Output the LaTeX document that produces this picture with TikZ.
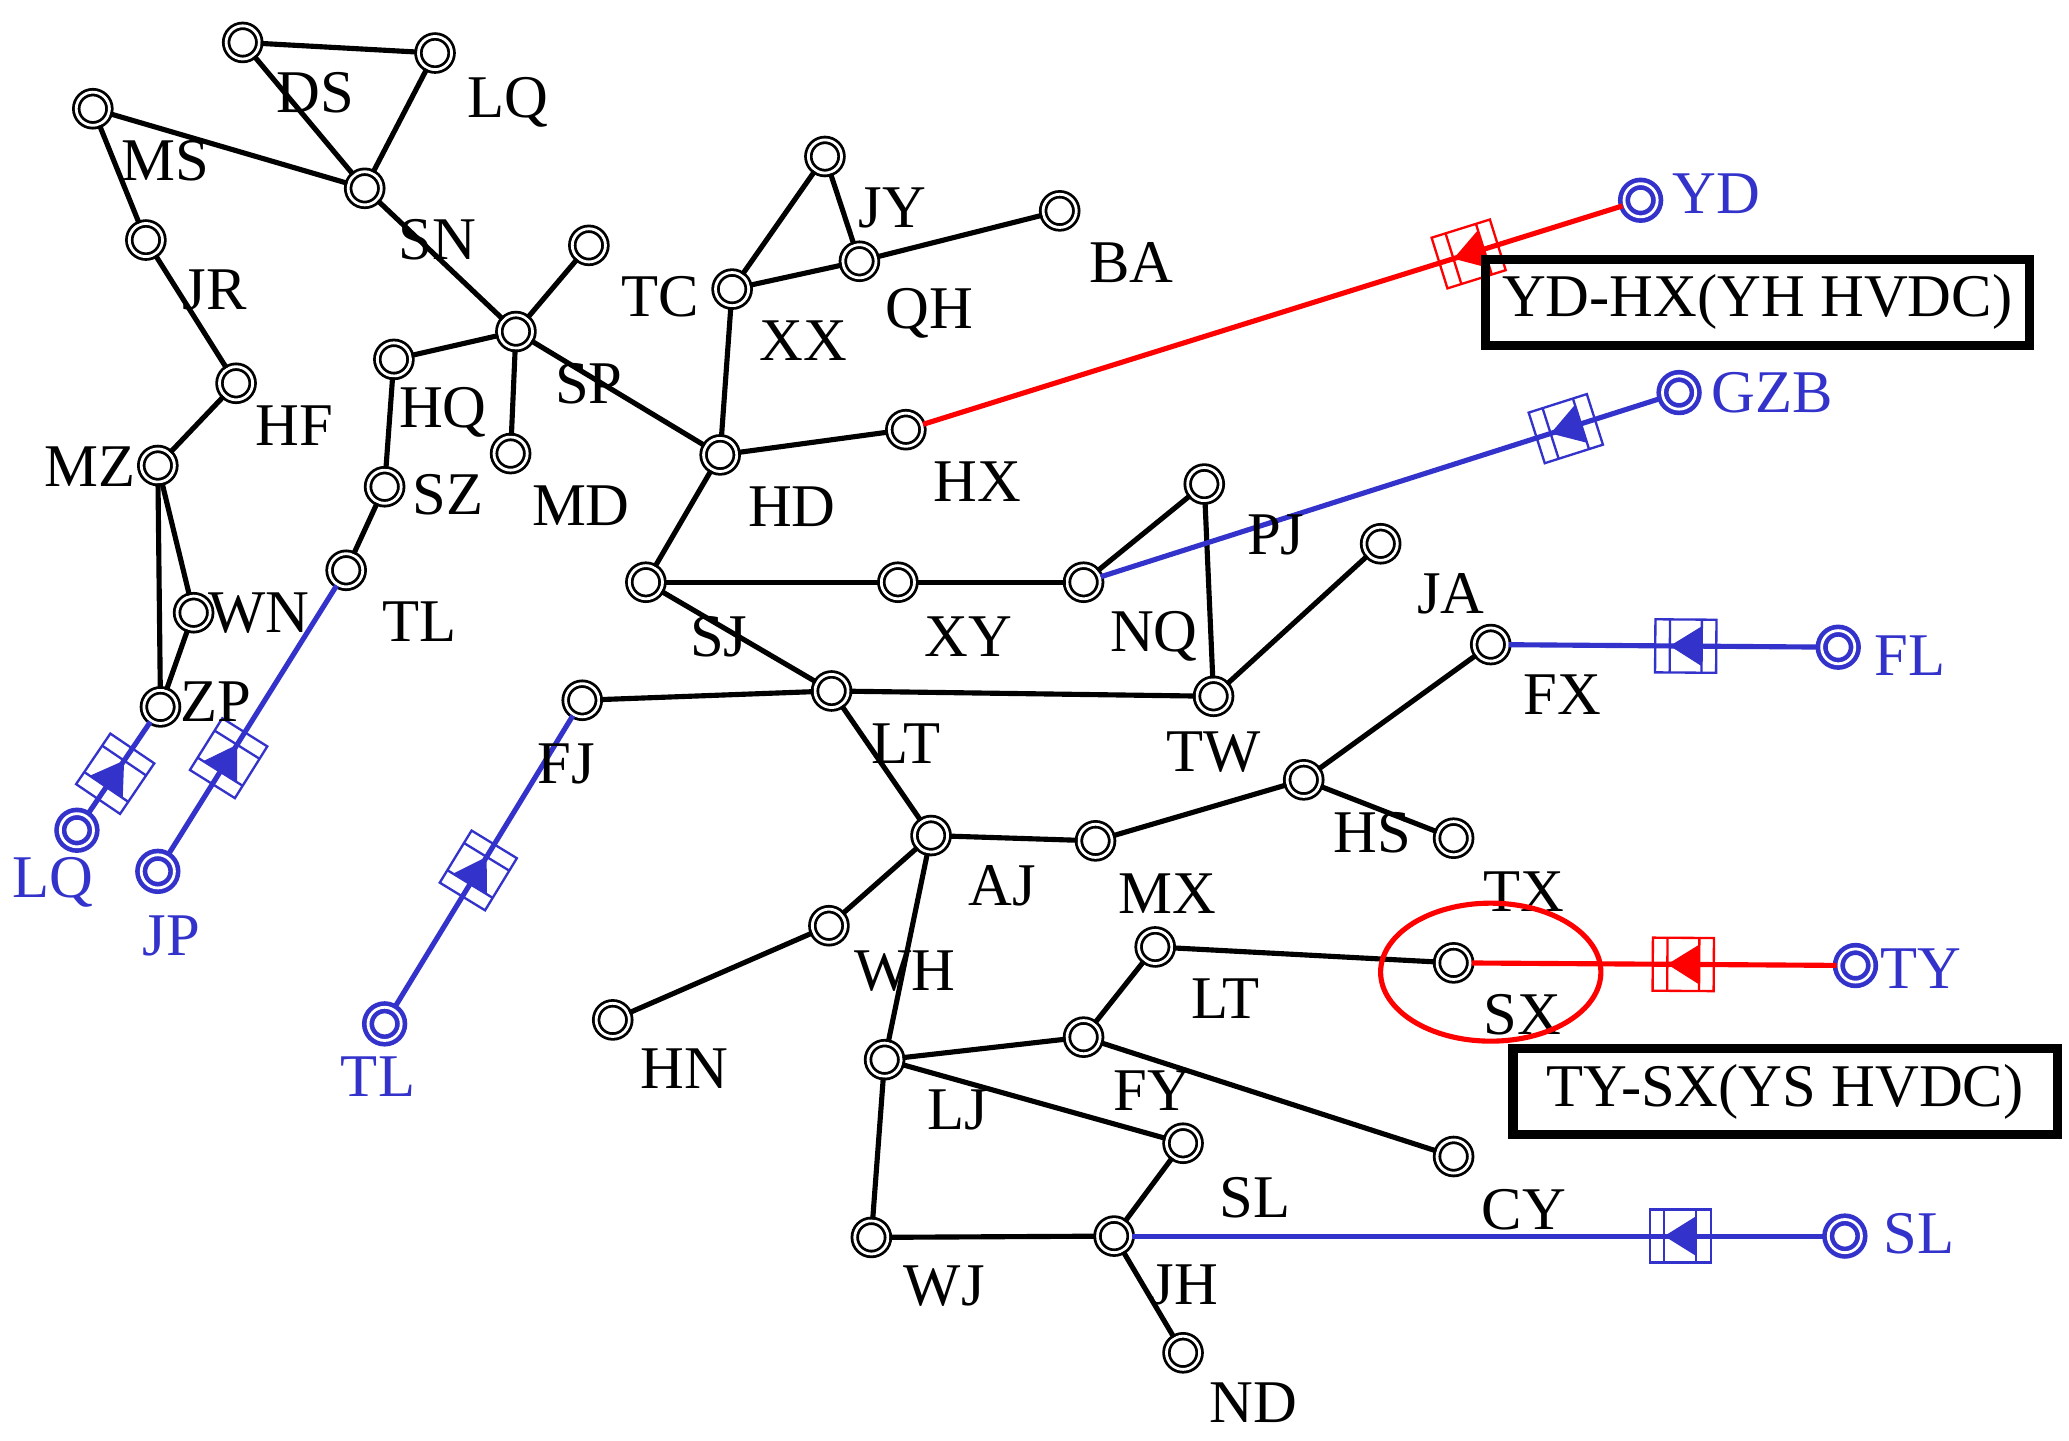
\documentclass[tikz,border=0pt]{standalone}
\usepackage{fontspec}
\setmainfont{Liberation Serif}
\usetikzlibrary{positioning,calc}
\definecolor{hvblue}{RGB}{51,51,204}
\tikzset{
  bus/.style={circle, draw, double, line width=0.6pt, minimum size=0.25cm, inner sep=0pt, fill=white},
  rbus/.style={bus, draw=hvblue, line width=1pt},
  lbl/.style={font=\fontsize{13}{15}\selectfont, inner sep=0pt},
  rlbl/.style={lbl, text=hvblue},
  line/.style={line width=1.1pt},
  conv/.style={draw=#1, line width=0.5pt, minimum width=0.46cm, minimum height=0.4cm, inner sep=0pt, sloped, allow upside down, fill=white,
    path picture={
      \draw[#1, line width=0.5pt] (-0.12cm,-0.3cm) -- (-0.12cm,0.3cm) (0.12cm,-0.3cm) -- (0.12cm,0.3cm);
      \fill[#1] (-0.12cm,0.15cm) -- (-0.12cm,-0.15cm) -- (0.12cm,0) -- cycle;
      \draw[#1, line width=1.1pt] (-0.3cm,0) -- (0.3cm,0);}},
  box/.style={draw, line width=2pt, minimum width=4.1cm, minimum height=0.58cm, font=\fontsize{13}{15}\selectfont}
}
\begin{document}
\begin{tikzpicture}[x=0.01cm,y=-0.01cm]
  \useasboundingbox (0,0) rectangle (1560,1086);
  % buses
  \foreach \n/\x/\y in {ds/183/32,lqt/328/40,ms/70/82,sn/275/142,jr/110/181,sp/389/250,spn/444/185,hf/178/289,hq/297/271,md/385/342,sz/290/367,mz/119/351,tl/261/430,wn/146/462,zp/121/533,tc/552/218,jy/622/118,qh/648/197,ba/799/159,hd/543/343,hx/683/324,sj/487/439,xy/677/439,nq/817/439,pj/908/365,ja/1041/410,tw/915/525,lt/627/521,fj/439/528,fx/1124/486,hs/983/588,hsn/1096/632,aj/702/630,mx/826/634,wh/625/698,hn/462/769,ltb/871/714,sx/1096/726,fy/817/782,lj/667/799,cy/1096/872,sln/892/862,wj/657/933,jh/840/932,nd/892/1020}
    \node[bus] (\n) at (\x,\y) {};
  % remote HVDC ends
  \foreach \n/\x/\y in {yd/1237/151,gzb/1266/296,fl/1386/488,ty/1399/728,sl/1391/932,lqr/58/626,jp/119/657,tlr/290/772}
    \node[rbus] (\n) at (\x,\y) {};
  % links of the AC grid
  \foreach \a/\b in {ds/lqt,ds/sn,lqt/sn,ms/sn,ms/jr,jr/hf,hf/mz,mz/wn,mz/zp,wn/zp,sn/sp,sp/spn,sp/hq,sp/md,hq/sz,sz/tl,sp/hd,hd/hx,hd/tc,tc/jy,jy/qh,tc/qh,qh/ba,hd/sj,sj/xy,xy/nq,nq/pj,pj/tw,sj/lt,lt/fj,lt/tw,tw/ja,lt/aj,aj/mx,mx/hs,hs/fx,hs/hsn,aj/wh,wh/hn,aj/lj,lj/fy,fy/ltb,ltb/sx,fy/cy,lj/sln,lj/wj,wj/jh,jh/sln,jh/nd}
    \draw[line] (\a) -- (\b);
  % HVDC links
  \draw[line, red] (yd) -- node[pos=0.22, conv=red] {} (hx);
  \draw[line, red] (ty) -- node[pos=0.42, conv=red] {} (sx);
  \foreach \a/\b/\p in {gzb/nq/0.17,fl/fx/0.43,sl/jh/0.21,lqr/zp/0.44,jp/tl/0.36,tlr/fj/0.47}
    \draw[line, hvblue] (\a) -- node[pos=\p, conv=hvblue] {} (\b);
  % bus names
  \foreach \t/\x/\y in {DS/238/70,LQ/383/77,MS/125/121,SN/330/181,JR/162/219,HF/222/321,HQ/334/311,SP/444/289,MD/438/381,SZ/338/373,MZ/68/352,TL/316/469,WN/195/462,ZP/163/529,TC/498/224,JY/673/157,QH/701/236,XX/606/257,BA/853/198,HD/597/382,HX/737/363,PJ/962/403,JA/1094/448,SJ/542/480,XY/730/480,NQ/870/480,FJ/427/576,LT/683/561,TW/915/567,FX/1178/524,HS/1035/628,TX/1149/672,AJ/756/668,MX/880/674,WH/682/732,HN/516/806,LT/924/753,SX/1148/765,FY/869/822,LJ/722/837,CY/1149/912,SL/946/903,JH/893/969,WJ/712/970,ND/945/1058}
    \node[lbl] at (\x,\y) {\t};
  \foreach \t/\x/\y in {YD/1294/146,GZB/1336/296,FL/1440/494,TY/1448/730,SL/1447/930,LQ/40/665,JP/129/706,TL/285/812}
    \node[rlbl] at (\x,\y) {\t};
  % highlighted terminal and captions
  \draw[red, line width=1.1pt] (1124,733) ellipse (0.83cm and 0.52cm);
  \node[box] (yh) at (1325,228) {YD-HX(YH HVDC)};
  \node[box] (ys) at (1346,823) {TY-SX(YS HVDC)};
\end{tikzpicture}
\end{document}
